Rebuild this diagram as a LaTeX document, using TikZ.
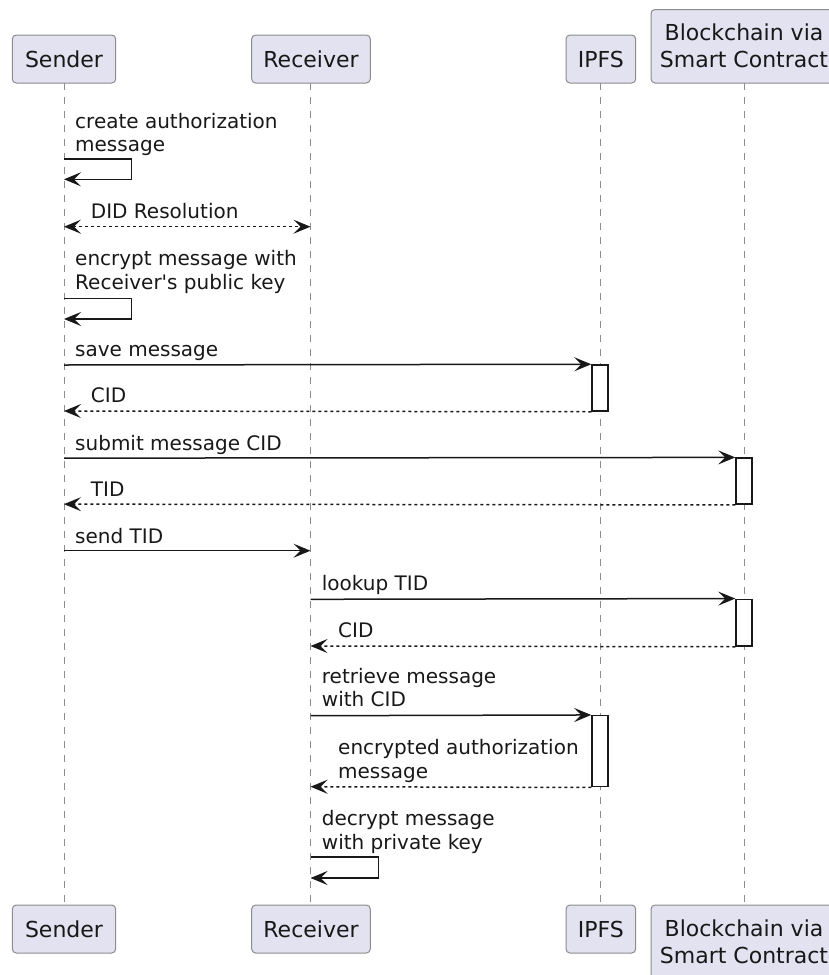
\documentclass[tikz,border=0pt]{standalone}
\usepackage{fontspec}
\setmainfont{DejaVu Sans}[Ligatures=TeXOff]
\usetikzlibrary{arrows.meta}
\definecolor{partfill}{HTML}{E2E2F0}
\definecolor{partline}{HTML}{8C8C8C}
\definecolor{ink}{HTML}{181818}
\tikzset{
  participant/.style={draw=partline, fill=partfill, line width=1pt, rounded corners=4pt,
    inner sep=0pt, align=center, text=ink, font=\fontsize{22}{27}\selectfont},
  lifeline/.style={draw=partline, line width=1pt, dash pattern=on 7pt off 7pt},
  activation/.style={draw=ink, fill=white, line width=1.5pt, inner sep=0pt, minimum width=16pt},
  tip/.tip={Stealth[length=17pt,width=14pt,inset=7pt]},
  msg/.style={draw=ink, line width=1.5pt, -tip},
  reply/.style={msg, dash pattern=on 3pt off 3pt},
  both/.style={draw=ink, line width=1.5pt, dash pattern=on 3pt off 3pt, tip-tip},
  % labels are placed by the baseline of their last line
  lbl/.style={anchor=base west, inner sep=0pt, align=left, text=ink, font=\fontsize{20}{23.5}\selectfont},
}
\begin{document}
\begin{tikzpicture}[x=1pt, y=-1pt]
\useasboundingbox (0,0) rectangle (829,975);
\clip (0,0) rectangle (829,975);

% lifelines
\coordinate (sT) at (64,83);   \coordinate (sB) at (64,905);
\coordinate (rT) at (310.5,83); \coordinate (rB) at (310.5,905);
\coordinate (iT) at (600,83);  \coordinate (iB) at (600,905);
\coordinate (bT) at (744,83);  \coordinate (bB) at (744,905);
\draw[lifeline] (sT) -- (sB);
\draw[lifeline] (rT) -- (rB);
\draw[lifeline] (iT) -- (iB);
\draw[lifeline] (bT) -- (bB);

% participants, top and bottom
\node[participant, minimum width=103.4pt, minimum height=48pt] (sender) at (64,59) {Sender};
\node[participant, minimum width=118.6pt, minimum height=48pt] (receiver) at (311,59) {Receiver};
\node[participant, minimum width=69.7pt, minimum height=48pt] (ipfs) at (600.85,59) {IPFS};
\node[participant, minimum width=186pt, minimum height=73.5pt] (chain) at (744,46.25) {Blockchain via\\Smart Contract};
\node[participant, minimum width=103.4pt, minimum height=48pt] (sender2) at (64,929) {Sender};
\node[participant, minimum width=118.6pt, minimum height=48pt] (receiver2) at (311,929) {Receiver};
\node[participant, minimum width=69.7pt, minimum height=48pt] (ipfs2) at (600.85,929) {IPFS};
\node[participant, minimum width=186pt, minimum height=73.5pt] (chain2) at (744,941.75) {Blockchain via\\Smart Contract};

% activation bars
\node[activation, minimum height=46pt] (act1) at (600,388) {};
\node[activation, minimum height=46pt] (act2) at (744,481.15) {};
\node[activation, minimum height=46.7pt] (act3) at (744,622.65) {};
\node[activation, minimum height=71pt] (act4) at (600,751.2) {};

% 1: create authorization message (self)
\node[lbl] (l1) at (75,151.5) {create authorization\\message};
\coordinate (m1a) at (64,159); \coordinate (m1b) at (131.7,159);
\coordinate (m1c) at (131.7,179.3); \coordinate (m1d) at (64,179.3);
\draw[msg] (m1a) -- (m1b) -- (m1c) -- (m1d);

% 2: DID Resolution
\node[lbl] (l2) at (90.7,218.3) {DID Resolution};
\coordinate (m2a) at (64,226.7); \coordinate (m2b) at (310.5,226.7);
\draw[both] (m2a) -- (m2b);

% 3: encrypt message (self)
\node[lbl] (l3) at (75,289) {encrypt message with\\Receiver's public key};
\coordinate (m3a) at (64,298.3); \coordinate (m3b) at (131.7,298.3);
\coordinate (m3c) at (131.7,319); \coordinate (m3d) at (64,319);
\draw[msg] (m3a) -- (m3b) -- (m3c) -- (m3d);

% 4: save message
\node[lbl] (l4) at (75,356) {save message};
\coordinate (m4) at (64,365);
\draw[msg] (m4) -- (act1.north west);

% 5: CID
\node[lbl] (l5) at (90.7,402.7) {CID};
\coordinate (m5) at (64,411);
\draw[reply] (act1.south west) -- (m5);

% 6: submit message CID
\node[lbl] (l6) at (75,450.7) {submit message CID};
\coordinate (m6) at (64,458.15);
\draw[msg] (m6) -- (act2.north west);

% 7: TID
\node[lbl] (l7) at (90.7,496.7) {TID};
\coordinate (m7) at (64,504.15);
\draw[reply] (act2.south west) -- (m7);

% 8: send TID
\node[lbl] (l8) at (75,543.3) {send TID};
\coordinate (m8a) at (64,550.7); \coordinate (m8b) at (310.5,550.7);
\draw[msg] (m8a) -- (m8b);

% 9: lookup TID
\node[lbl] (l9) at (321.7,590.7) {lookup TID};
\coordinate (m9) at (310.5,599.3);
\draw[msg] (m9) -- (act3.north west);

% 10: CID
\node[lbl] (l10) at (338,637.3) {CID};
\coordinate (m10) at (310.5,646);
\draw[reply] (act3.south west) -- (m10);

% 11: retrieve message with CID
\node[lbl] (l11) at (321.7,706.7) {retrieve message\\with CID};
\coordinate (m11) at (310.5,715.7);
\draw[msg] (m11) -- (act4.north west);

% 12: encrypted authorization message
\node[lbl] (l12) at (338,778.3) {encrypted authorization\\message};
\coordinate (m12) at (310.5,786.7);
\draw[reply] (act4.south west) -- (m12);

% 13: decrypt message (self)
\node[lbl] (l13) at (321.7,849.3) {decrypt message\\with private key};
\coordinate (m13a) at (310.5,857); \coordinate (m13b) at (378.3,857);
\coordinate (m13c) at (378.3,878); \coordinate (m13d) at (310.5,878);
\draw[msg] (m13a) -- (m13b) -- (m13c) -- (m13d);
\end{tikzpicture}
\end{document}
